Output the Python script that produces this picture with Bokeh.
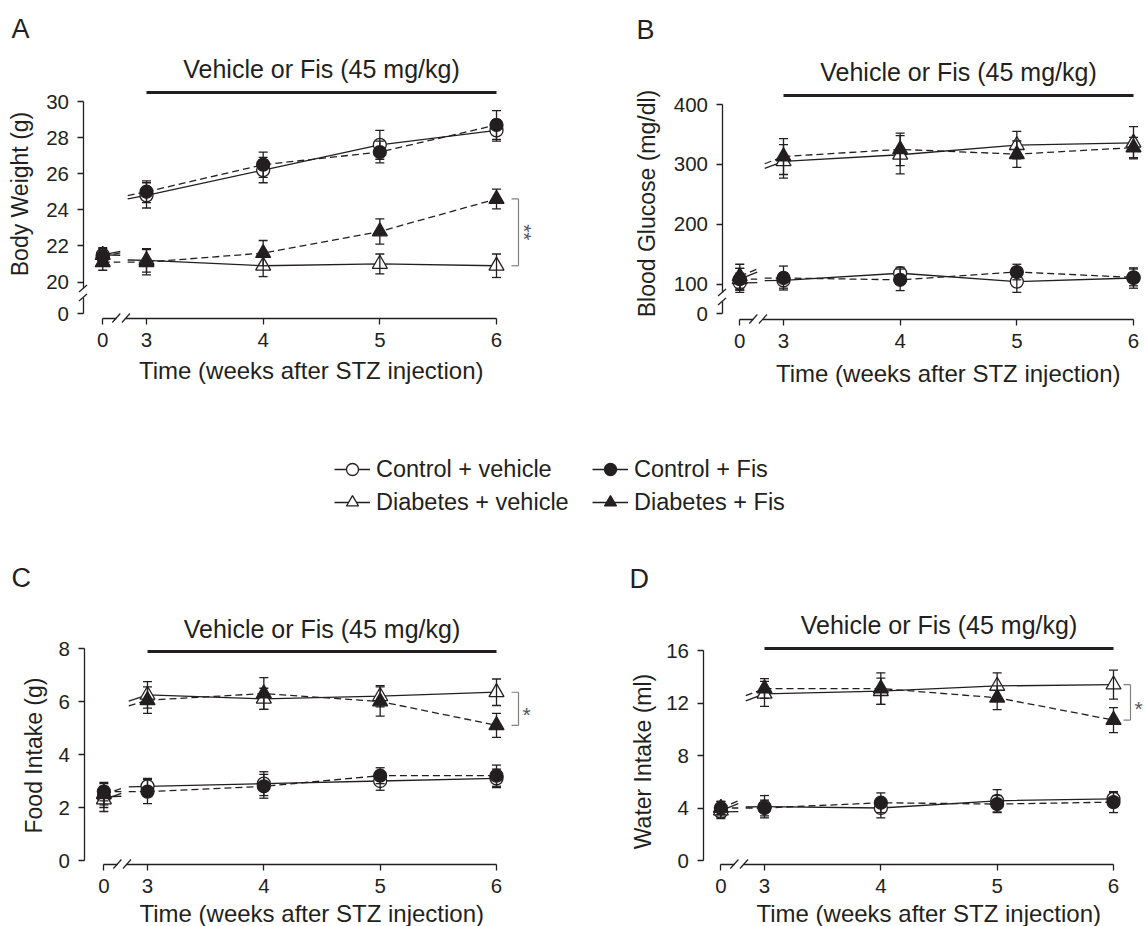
import math
from bokeh.plotting import figure
from bokeh.models import (ColumnDataSource, Range1d, LinearAxis, FixedTicker, Label,
                          Legend, LegendItem)
from bokeh.layouts import column, row
from bokeh.embed import file_html
from bokeh.resources import INLINE

FONT = "Liberation Sans"
INK = "#231f20"

# ---------------- data ----------------
weeks = [0, 3, 4, 5, 6]
week_tick_labels = ["0", "3", "4", "5", "6"]
groups = ["Control + vehicle", "Control + Fis", "Diabetes + vehicle", "Diabetes + Fis"]

# A: body weight (g)
bw_ctrl_veh = [21.5, 24.8, 26.2, 27.6, 28.4]
bw_ctrl_fis = [21.4, 25.0, 26.5, 27.2, 28.7]
bw_diab_veh = [21.5, 21.2, 20.9, 21.0, 20.9]
bw_diab_fis = [21.1, 21.1, 21.6, 22.8, 24.6]
bw_ctrl_veh_err = [0.35, 0.7, 0.7, 0.8, 0.6]
bw_ctrl_fis_err = [0.35, 0.6, 0.7, 0.6, 0.8]
bw_diab_veh_err = [0.4, 0.65, 0.6, 0.55, 0.65]
bw_diab_fis_err = [0.45, 0.7, 0.7, 0.7, 0.55]
bw_ticks = [20, 22, 24, 26, 28, 30]

# B: blood glucose (mg/dl)
bg_ctrl_veh = [102, 106, 118, 104, 110]
bg_ctrl_fis = [108, 110, 107, 120, 111]
bg_diab_veh = [108, 305, 316, 332, 336]
bg_diab_fis = [113, 313, 325, 317, 328]
bg_ctrl_veh_err = [16, 13, 10, 18, 17]
bg_ctrl_fis_err = [18, 20, 18, 13, 14]
bg_diab_veh_err = [18, 28, 32, 23, 27]
bg_diab_fis_err = [20, 30, 27, 22, 17]
bg_ticks = [100, 200, 300, 400]

# C: food intake (g)
fi_ctrl_veh = [2.4, 2.8, 2.9, 3.0, 3.1]
fi_ctrl_fis = [2.6, 2.6, 2.8, 3.2, 3.2]
fi_diab_veh = [2.3, 6.25, 6.1, 6.2, 6.35]
fi_diab_fis = [2.5, 6.05, 6.3, 6.0, 5.1]
fi_ctrl_veh_err = [0.4, 0.3, 0.45, 0.35, 0.35]
fi_ctrl_fis_err = [0.35, 0.45, 0.45, 0.3, 0.4]
fi_diab_veh_err = [0.45, 0.5, 0.4, 0.4, 0.5]
fi_diab_fis_err = [0.4, 0.5, 0.6, 0.55, 0.45]
fi_ticks = [0, 2, 4, 6, 8]

# D: water intake (ml)
wi_ctrl_veh = [3.7, 4.1, 4.0, 4.55, 4.7]
wi_ctrl_fis = [4.0, 4.0, 4.4, 4.3, 4.45]
wi_diab_veh = [3.8, 12.7, 12.9, 13.3, 13.4]
wi_diab_fis = [4.0, 13.1, 13.1, 12.4, 10.7]
wi_ctrl_veh_err = [0.5, 0.85, 0.75, 0.85, 0.5]
wi_ctrl_fis_err = [0.5, 0.6, 0.75, 0.65, 0.8]
wi_diab_veh_err = [0.5, 0.95, 1.0, 1.0, 1.1]
wi_diab_fis_err = [0.5, 0.75, 1.2, 0.9, 0.95]
wi_ticks = [0, 4, 8, 12, 16]

zero_label = "0"
treat_title = "Vehicle or Fis (45 mg/kg)"
x_title = "Time (weeks after STZ injection)"

# ---------------- style ----------------
MARKERS = ["circle", "circle", "triangle", "triangle"]
FILLS = ["white", INK, "white", INK]
DASHES = ["solid", "7 4", "solid", "7 4"]
SIZES = [13, 13, 15, 15]
X0 = 2.625  # display position of week 0 (compressed broken x-axis)
MID = 0.33  # distance from baseline to text-box middle, in em


def style_axis(ax, standoff):
    ax.axis_line_color = INK
    ax.axis_line_width = 1.3
    ax.major_tick_line_color = INK
    ax.major_tick_line_width = 1.3
    ax.major_tick_in = 0
    ax.major_tick_out = 6
    ax.minor_tick_line_color = None
    ax.major_label_text_font = FONT
    ax.major_label_text_font_size = "20.5px"
    ax.major_label_text_color = INK
    ax.major_label_standoff = standoff


def make_panel(letter, series, errors, yticks, ylabel, lay, sig=None):
    left, top, w, h = lay["box"]
    x3px, x6px = lay["x3"], lay["x6"]
    (pa, va), (pb, vb) = lay["yref"]
    ux = (x6px - x3px) / 3.0
    uy = (pb - pa) / (va - vb)

    def X(px):
        return 3.0 + (px - x3px) / ux

    def Y(py):
        return va - (py - pa) / uy

    p = figure(width=w, height=h,
               x_range=Range1d(X(left), X(left + w)),
               y_range=Range1d(Y(top + h), Y(top)),
               x_axis_type=None, y_axis_type=None,
               toolbar_location=None, output_backend="svg",
               min_border=0, outline_line_color=None)

    xd = [X0 if wk == 0 else float(wk) for wk in weeks]
    ax_x = X(lay["yaxis_px"])
    ax_y = Y(lay["xaxis_px"])

    # ---- y axis (possibly broken) ----
    if lay.get("ybreak"):
        zero_disp, hi_px, lo_px = lay["ybreak"]
        up = LinearAxis(fixed_location=ax_x, bounds=(Y(hi_px), max(yticks)),
                        ticker=FixedTicker(ticks=yticks, minor_ticks=[]))
        style_axis(up, 8)
        p.add_layout(up, "left")
        low = LinearAxis(fixed_location=ax_x, bounds=(zero_disp, Y(lo_px)),
                         ticker=FixedTicker(ticks=[zero_disp], minor_ticks=[]),
                         major_label_overrides={zero_disp: zero_label})
        style_axis(low, 8)
        p.add_layout(low, "left")
        bx0, bx1 = ax_x - 4.0 / ux, ax_x + 4.0 / ux
        p.segment(x0=[bx0, bx0], y0=[Y(hi_px + 3.5), Y(lo_px + 3.5)],
                  x1=[bx1, bx1], y1=[Y(hi_px - 3.5), Y(lo_px - 3.5)],
                  line_color=INK, line_width=1.2)
    else:
        ya = LinearAxis(fixed_location=ax_x, bounds=(min(yticks), max(yticks)),
                        ticker=FixedTicker(ticks=yticks, minor_ticks=[]))
        style_axis(ya, 8)
        p.add_layout(ya, "left")

    # ---- x axis (broken between 0 and 3) ----
    brk1 = X0 + 0.31 * (3 - X0)
    brk2 = X0 + 0.53 * (3 - X0)
    overrides = {x: lab for x, lab in zip(xd, week_tick_labels)}
    xa1 = LinearAxis(fixed_location=ax_y, bounds=(X0, brk1),
                     ticker=FixedTicker(ticks=[X0], minor_ticks=[]),
                     major_label_overrides={X0: overrides[X0]})
    style_axis(xa1, 9)
    p.add_layout(xa1, "below")
    xa2 = LinearAxis(fixed_location=ax_y, bounds=(brk2, 6.0),
                     ticker=FixedTicker(ticks=xd[1:], minor_ticks=[]),
                     major_label_overrides={x: overrides[x] for x in xd[1:]})
    style_axis(xa2, 9)
    p.add_layout(xa2, "below")
    dx, dy = 4.0 / ux, 4.5 / uy
    p.segment(x0=[brk1 - dx, brk2 - dx], y0=[ax_y - dy, ax_y - dy],
              x1=[brk1 + dx, brk2 + dx], y1=[ax_y + dy, ax_y + dy],
              line_color=INK, line_width=1.2)

    # ---- texts (anchors at text middle; positions given as baselines) ----
    def text(xv, base_px, txt, fs, align="center"):
        p.add_layout(Label(x=xv, y=Y(base_px - MID * fs), text=txt, text_font=FONT,
                           text_font_size=f"{fs}px", text_color=INK,
                           text_align=align, text_baseline="middle"))

    lx, lb = lay["letter"]
    text(X(lx), lb, letter, 27, "left")
    text(4.5, lay["title"], treat_title, 25)
    p.segment(x0=[3.0], y0=[Y(lay["bar"])], x1=[6.0], y1=[Y(lay["bar"])],
              line_color=INK, line_width=3.2)
    ylx, yly = lay["ylabel"]
    p.add_layout(Label(x=X(ylx - MID * 23), y=Y(yly), text=ylabel, angle=math.pi / 2,
                       text_font=FONT, text_font_size="23px", text_color=INK,
                       text_align="center", text_baseline="middle"))
    text((brk2 + 6.0) / 2, lay["xlabel"], x_title, 24)

    # ---- connecting lines ----
    s0 = X0 + 0.40 * (3 - X0)
    s3 = X0 + 0.57 * (3 - X0)
    for i in range(4):
        v = series[i]
        kw = dict(line_color=INK, line_width=1.3, line_dash=DASHES[i])
        p.line(xd[1:], v[1:], **kw)
        d = v[1] - v[0]
        p.line([X0, s0], [v[0], v[0] + 0.06 * d], **kw)
        p.line([s3, 3.0], [v[1] - 0.06 * d, v[1]], **kw)

    # ---- markers (open first, filled on top) ----
    for i in [0, 2, 1, 3]:
        src = ColumnDataSource(dict(x=xd, y=series[i]))
        p.scatter("x", "y", source=src, marker=MARKERS[i], size=SIZES[i],
                  fill_color=FILLS[i], line_color=INK, line_width=1.3)

    # ---- error bars ----
    for i in range(4):
        v, e = series[i], errors[i]
        lo = [a - b for a, b in zip(v, e)]
        hi = [a + b for a, b in zip(v, e)]
        src = ColumnDataSource(dict(x=xd, lo=lo, hi=hi))
        p.segment(x0="x", y0="lo", x1="x", y1="hi", source=src,
                  line_color=INK, line_width=1.3)
        p.scatter(x=xd + xd, y=lo + hi, marker="dash", size=9,
                  line_color=INK, line_width=1.3)

    # ---- significance bracket (diabetes groups at week 6) ----
    if sig:
        a, b = series[2][-1], series[3][-1]
        top_v, bot_v = max(a, b), min(a, b)
        xb = 6.0 + lay.get("brk_dx", 21.0) / ux
        arm = 7.0 / ux
        p.segment(x0=[xb, xb - arm, xb - arm], y0=[bot_v, top_v, bot_v],
                  x1=[xb, xb, xb], y1=[top_v, top_v, bot_v],
                  line_color="#808080", line_width=1.2)
        mid_v = (top_v + bot_v) / 2
        if len(sig) > 1:
            # stacked asterisks: rotated text
            p.add_layout(Label(x=xb + 6.0 / ux, y=mid_v, text=sig,
                               angle=-math.pi / 2, text_font=FONT, text_font_size="21px",
                               text_color="#555555", text_align="center",
                               text_baseline="middle"))
        else:
            p.add_layout(Label(x=xb + 8.0 / ux, y=mid_v - 6.0 / uy, text=sig,
                               text_font=FONT, text_font_size="21px",
                               text_color="#555555", text_align="center",
                               text_baseline="middle"))
    return p


LAY_A = dict(box=(0, 0, 568, 392), x3=146, x6=496, yref=((101, 30), (281.5, 20)),
             yaxis_px=82.5, xaxis_px=317.5, ybreak=(18.25, 288, 297),
             letter=(11, 37.5), title=77, bar=92, ylabel=(27, 193.5), xlabel=378,
             brk_dx=22)
LAY_B = dict(box=(568, 0, 577, 392), x3=783, x6=1133, yref=((104, 400), (283.5, 100)),
             yaxis_px=721.5, xaxis_px=318.5, ybreak=(50, 292, 301),
             letter=(636, 38), title=80, bar=95, ylabel=(654.5, 203), xlabel=381)
LAY_C = dict(box=(0, 530, 568, 396), x3=147, x6=496, yref=((648, 8), (860, 0)),
             yaxis_px=83.5, xaxis_px=863.5, ybreak=None,
             letter=(11, 586), title=637, bar=651, ylabel=(41.5, 755), xlabel=921,
             brk_dx=22)
LAY_D = dict(box=(568, 530, 577, 396), x3=764, x6=1113, yref=((650, 16), (860, 0)),
             yaxis_px=702.5, xaxis_px=863.5, ybreak=None,
             letter=(629, 587), title=633, bar=648, ylabel=(650, 761), xlabel=921,
             brk_dx=17)

pA = make_panel("A", [bw_ctrl_veh, bw_ctrl_fis, bw_diab_veh, bw_diab_fis],
                [bw_ctrl_veh_err, bw_ctrl_fis_err, bw_diab_veh_err, bw_diab_fis_err],
                bw_ticks, "Body Weight (g)", LAY_A, sig="**")
pB = make_panel("B", [bg_ctrl_veh, bg_ctrl_fis, bg_diab_veh, bg_diab_fis],
                [bg_ctrl_veh_err, bg_ctrl_fis_err, bg_diab_veh_err, bg_diab_fis_err],
                bg_ticks, "Blood Glucose (mg/dl)", LAY_B)
pC = make_panel("C", [fi_ctrl_veh, fi_ctrl_fis, fi_diab_veh, fi_diab_fis],
                [fi_ctrl_veh_err, fi_ctrl_fis_err, fi_diab_veh_err, fi_diab_fis_err],
                fi_ticks, "Food Intake (g)", LAY_C, sig="*")
pD = make_panel("D", [wi_ctrl_veh, wi_ctrl_fis, wi_diab_veh, wi_diab_fis],
                [wi_ctrl_veh_err, wi_ctrl_fis_err, wi_diab_veh_err, wi_diab_fis_err],
                wi_ticks, "Water Intake (ml)", LAY_D, sig="*")

# ---------------- legend strip ----------------
pL = figure(width=1145, height=138, x_range=Range1d(0, 1), y_range=Range1d(0, 1),
            x_axis_type=None, y_axis_type=None, toolbar_location=None,
            output_backend="svg", min_border=0, outline_line_color=None)
items = []
for i in range(4):
    # one point far outside the visible range so the legend has a glyph to draw
    src = ColumnDataSource(dict(x=[-10.0], y=[-10.0]))
    lr = pL.line("x", "y", source=src, line_color=INK, line_width=1.3)
    sr = pL.scatter("x", "y", source=src, marker=MARKERS[i], size=12,
                    fill_color=FILLS[i], line_color=INK, line_width=1.3)
    items.append(LegendItem(label=groups[i], renderers=[lr, sr]))
leg = Legend(items=items, location=(334, 13), orientation="horizontal", ncols=2,
             glyph_width=36, glyph_height=30, label_height=30, label_width=213,
             label_standoff=6, spacing=3, padding=0, margin=0,
             label_text_font=FONT, label_text_font_size="23.5px",
             label_text_color=INK, border_line_color=None,
             background_fill_alpha=0)
pL.add_layout(leg)

layout = column(row(pA, pB), pL, row(pC, pD))
open("out.html", "w").write(file_html(layout, INLINE))
